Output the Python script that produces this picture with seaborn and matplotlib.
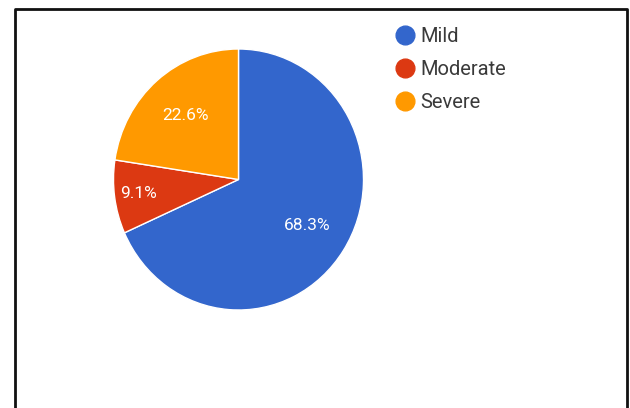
import matplotlib
matplotlib.use("Agg")
import matplotlib.pyplot as plt
import seaborn as sns
import numpy as np
from matplotlib.lines import Line2D

categories = ["Mild", "Moderate", "Severe"]
values = [68.3, 9.1, 22.6]
colors = ["#3366CC", "#DC3912", "#FF9900"]

sns.set_theme(style="white")
plt.rcParams['font.family'] = ['Roboto', 'DejaVu Sans']

fig = plt.figure(figsize=(6.3, 4.08), dpi=100)
W, H = 630, 408
cx, cy, rx, ry = 238.5, 179.5, 125, 130.5
ax = fig.add_axes([(cx - rx) / W, (H - cy - ry) / H, 2 * rx / W, 2 * ry / H])

wedges, texts, autotexts = ax.pie(
    values, colors=colors, startangle=90, counterclock=False,
    autopct="%.1f%%", pctdistance=0.65,
    wedgeprops=dict(edgecolor="white", linewidth=1),
    textprops=dict(color="white", fontsize=12.5),
)
# push small slice label outward like the reference
for w, t, v in zip(wedges, autotexts, values):
    if v < 10:
        ang = np.deg2rad((w.theta1 + w.theta2) / 2)
        t.set_position((0.81 * np.cos(ang), 0.81 * np.sin(ang)))
ax.set_aspect("auto")
ax.set_xlim(-1, 1)
ax.set_ylim(-1, 1)
ax.axis("off")

handles = [Line2D([], [], marker="o", linestyle="", markersize=13.5,
                  markerfacecolor=c, markeredgecolor=c) for c in colors]
fig.legend(handles, categories, loc="upper left",
           bbox_to_anchor=(391 / W, 1 - 27.5 / H), frameon=False,
           fontsize=14.5, labelcolor="#3a3a3a", handletextpad=0.1,
           labelspacing=0.68, handlelength=1.35, borderaxespad=0, borderpad=0)

# frame border (left, top, right)
fig.add_artist(Line2D([14.5 / W, 14.5 / W, 627 / W, 627 / W],
                      [0, 1 - 8.5 / H, 1 - 8.5 / H, 0],
                      transform=fig.transFigure, color="#111111", linewidth=2))

fig.savefig("out.png", dpi=100, facecolor="white")
